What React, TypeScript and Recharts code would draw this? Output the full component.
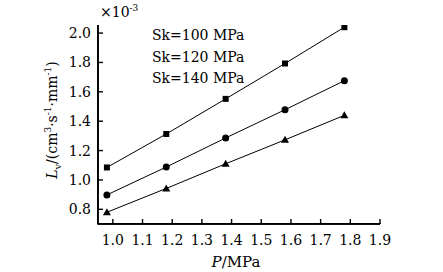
import React from "react";
import { LineChart, Line, XAxis, YAxis, ReferenceLine } from "recharts";

const pressure = [0.98, 1.18, 1.38, 1.58, 1.78];
const sk100 = [1.085, 1.313, 1.552, 1.793, 2.04];
const sk120 = [0.898, 1.088, 1.286, 1.478, 1.676];
const sk140 = [0.78, 0.942, 1.11, 1.273, 1.44];
const seriesNames = ["Sk=100 MPa", "Sk=120 MPa", "Sk=140 MPa"];
const xTicks = [1.0, 1.1, 1.2, 1.3, 1.4, 1.5, 1.6, 1.7, 1.8, 1.9];
const yTicks = [0.8, 1.0, 1.2, 1.4, 1.6, 1.8, 2.0];
const xDomain = [0.95, 1.9];
const yDomain = [0.7, 2.055];

const data = pressure.map((p, i) => ({
  p,
  a: sk100[i],
  b: sk120[i],
  c: sk140[i],
}));

const FONT = "DejaVu Serif";
const txt = { fontFamily: FONT, fill: "#000" };

const SquareDot = (props: any) => {
  const { cx, cy } = props;
  return <rect x={cx - 3} y={cy - 3} width={6} height={6} fill="#000" />;
};
const CircleDot = (props: any) => {
  const { cx, cy } = props;
  return <circle cx={cx} cy={cy} r={3.5} fill="#000" />;
};
const TriDot = (props: any) => {
  const { cx, cy } = props;
  return (
    <polygon
      points={`${cx},${cy - 4} ${cx + 4},${cy + 3} ${cx - 4},${cy + 3}`}
      fill="#000"
    />
  );
};

const XTick = (props: any) => {
  const { x, y, payload } = props;
  return (
    <g>
      <polygon points={`${x - 0.7},${y} ${x + 0.7},${y} ${x + 0.7},${y - 5} ${x - 0.7},${y - 5}`} fill="#000" />
      <text x={x} y={y + 21} textAnchor="middle" fontSize={14} style={txt}>
        {payload.value.toFixed(1)}
      </text>
    </g>
  );
};

const YTick = (props: any) => {
  const { x, y, payload } = props;
  return (
    <g>
      <polygon points={`${x},${y - 0.7} ${x + 5},${y - 0.7} ${x + 5},${y + 0.7} ${x},${y + 0.7}`} fill="#000" />
      <text x={x - 7} y={y + 5} textAnchor="end" fontSize={14} style={txt}>
        {payload.value.toFixed(1)}
      </text>
    </g>
  );
};

// axis frame drawn as one L-shaped path (non-degenerate bounding box)
const FrameShape = (props: any) => {
  const x = props.x1;
  const yTop = Math.min(props.y1, props.y2);
  const yBot = Math.max(props.y1, props.y2);
  const right = x + (props.viewBox?.width ?? 282);
  return (
    <path d={`M${x},${yTop} L${x},${yBot} L${right},${yBot}`} stroke="#000" strokeWidth={1.5} fill="none" />
  );
};

export default function App() {
  return (
    <div style={{ position: "absolute", left: 0, top: 0, width: 443, height: 272, background: "#fff", fontFamily: FONT }}>
      <LineChart
        width={443}
        height={272}
        data={data}
        margin={{ top: 25, right: 63, left: 58, bottom: 18 }}
      >
        <XAxis
          dataKey="p"
          type="number"
          domain={xDomain}
          ticks={xTicks}
          tick={<XTick />}
          tickSize={0}
          tickMargin={0}
          height={30}
          axisLine={{ stroke: "#000", strokeWidth: 1.5 }}
          tickLine={false}
          interval={0}
          allowDataOverflow
          label={(p: any) => {
            const vb = p.viewBox;
            return (
              <text x={vb.x + vb.width / 2 - 3} y={vb.y + 43} textAnchor="middle" fontSize={15} style={txt}>
                <tspan fontStyle="italic">P</tspan>/MPa
              </text>
            );
          }}
        />
        <YAxis
          type="number"
          domain={yDomain}
          ticks={yTicks}
          tick={<YTick />}
          tickSize={0}
          tickMargin={0}
          width={40}
          axisLine={{ stroke: "#000", strokeWidth: 1.5 }}
          tickLine={false}
          interval={0}
          allowDataOverflow
          label={(p: any) => {
            const vb = p.viewBox;
            const ax = vb.x + vb.width;
            return (
              <g>
                <text
                  transform={`translate(${ax - 41},${vb.y + 95}) rotate(-90)`}
                  textAnchor="middle"
                  fontSize={14}
                  style={txt}
                >
                  <tspan fontStyle="italic">L</tspan>
                  <tspan fontSize={10} dy={4}>v</tspan>
                  <tspan dy={-4}>/(cm</tspan>
                  <tspan fontSize={9} dy={-6}>3</tspan>
                  <tspan dy={6}>·s</tspan>
                  <tspan fontSize={9} dy={-6}>-1</tspan>
                  <tspan dy={6}>·mm</tspan>
                  <tspan fontSize={9} dy={-6}>-1</tspan>
                  <tspan dy={6}>)</tspan>
                </text>
                <text x={ax + 2} y={vb.y - 8} fontSize={14} style={txt}>
                  ×10
                  <tspan fontSize={9} dy={-6}>-3</tspan>
                </text>
                {seriesNames.map((n, i) => (
                  <text key={n} x={ax + 54} y={vb.y + 15 + i * 21.5} fontSize={14} style={txt}>
                    {n}
                  </text>
                ))}
              </g>
            );
          }}
        />
        <ReferenceLine x={xDomain[0]} ifOverflow="visible" stroke="#000" shape={<FrameShape />} />
        <Line dataKey="a" name={seriesNames[0]} stroke="#000" strokeWidth={1} dot={<SquareDot />} isAnimationActive={false} />
        <Line dataKey="b" name={seriesNames[1]} stroke="#000" strokeWidth={1} dot={<CircleDot />} isAnimationActive={false} />
        <Line dataKey="c" name={seriesNames[2]} stroke="#000" strokeWidth={1} dot={<TriDot />} isAnimationActive={false} />
      </LineChart>
      <div
        style={{
          position: "absolute",
          left: 97,
          top: 25,
          width: 283,
          height: 198,
          borderLeft: "1.5px solid #000",
          borderBottom: "1.5px solid #000",
          pointerEvents: "none",
        }}
      />
    </div>
  );
}
